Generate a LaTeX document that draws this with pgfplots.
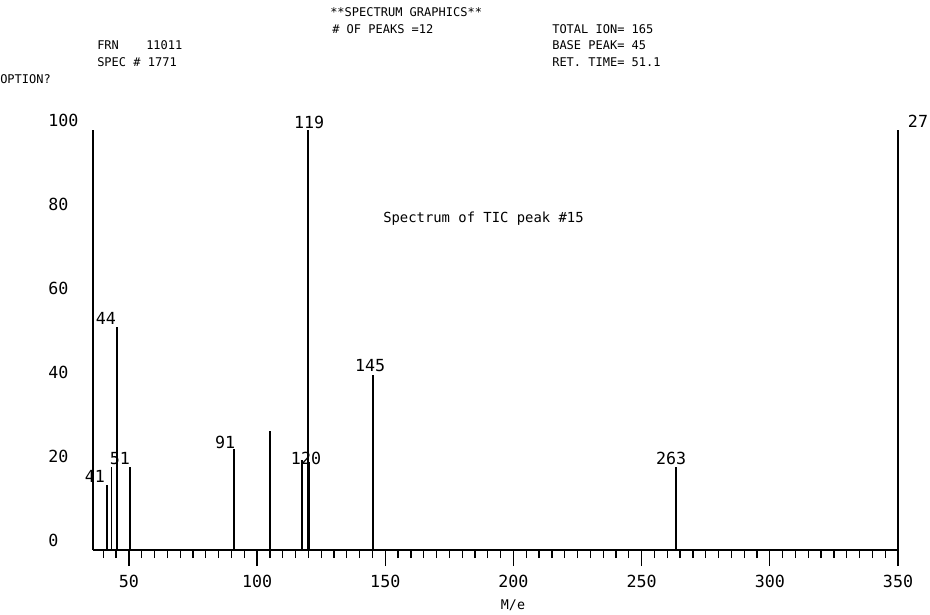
\documentclass[border=0pt]{standalone}
\usepackage{pgfplots}
\pgfplotsset{compat=1.18}
\usepackage{fontspec}
\setmainfont{DejaVu Sans Mono}
\pgfplotstableread{
m v
41.5 15.5
43.2 19.8
45.4 53.2
50.5 19.8
91.1 24.0
105.1 28.4
117.5 21.4
119.8 100
120.4 21
145.2 41.7
263.5 19.8
350 100
}\peaks
\begin{document}
\begin{tikzpicture}[x=0.75pt,y=0.75pt]
\path[use as bounding box] (0,0) rectangle (930,614);
\begin{axis}[
  at={(69.75pt,48pt)}, anchor=south west,
  scale only axis, width=603.75pt, height=315pt,
  xmin=36, xmax=350, ymin=0, ymax=100,
  axis x line=bottom, axis y line=left,
  axis line style={-, line width=1.2pt},
  clip=false,
  tick align=outside,
  xtick={50,100,...,350},
  minor xtick={40,45,...,345},
  ytick={0,20,...,100},
  ytick style={draw=none},
  minor ytick={0,10,...,100},
  major tick length=12pt, minor tick length=6pt,
  every tick/.style={black, line width=1pt},
  tick label style={font=\fontsize{12.5}{12.5}\selectfont},
  /pgf/number format/assume math mode=true,
  xticklabel style={yshift=-3.5pt},
  yticklabel style={anchor=west, xshift=-25pt, yshift=7pt},
]
\addplot[ycomb, line width=1.3pt, black, mark=none] table[x=m,y=v] {\peaks};
\begin{scope}[font=\fontsize{12.5}{12.5}\selectfont]
\node at (axis cs:36.7,17.4) {41};
\node at (axis cs:41.0,55.2) {44};
\node at (axis cs:46.5,21.7) {51};
\node at (axis cs:87.5,25.7) {91};
\node at (axis cs:119.1,21.7) {120};
\node at (axis cs:120.3,101.9) {119};
\node at (axis cs:144.1,43.8) {145};
\node at (axis cs:261.5,21.7) {263};
\node at (axis cs:357.8,102.1) {27};
\end{scope}
\end{axis}
\begin{scope}[every node/.style={inner sep=0pt, anchor=west, font=\fontsize{9}{9}\selectfont}]
\node at (330,602) {**SPECTRUM GRAPHICS**};
\node at (332,585) {\# OF PEAKS =12};
\node at (552,585) {TOTAL ION= 165};
\node at (97,569) {FRN};
\node at (146,569) {11011};
\node at (552,569) {BASE PEAK= 45};
\node at (97,552) {SPEC \# 1771};
\node at (552,552) {RET. TIME= 51.1};
\node at (0,535) {OPTION?};
\node[font=\fontsize{10.4}{10.4}\selectfont] at (383,395) {Spectrum of TIC peak \#15};
\node[anchor=center, font=\fontsize{10}{10}\selectfont] at (513,9) {M/e};
\end{scope}
\end{tikzpicture}
\end{document}
